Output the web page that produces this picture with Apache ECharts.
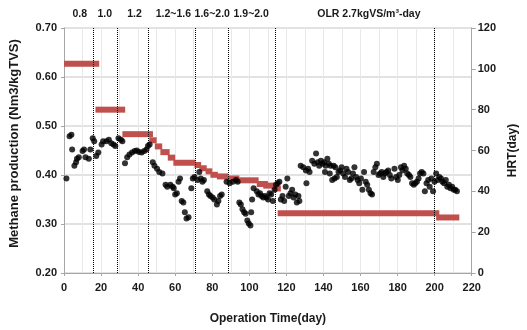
<!DOCTYPE html>
<html>
<head>
<meta charset="utf-8">
<script src="https://cdn.jsdelivr.net/npm/echarts@6/dist/echarts.min.js"></script>
<style>
  html, body { margin: 0; padding: 0; background: #fff; }
  #chart { width: 527px; height: 330px; }
</style>
</head>
<body>
<div id="chart"></div>
<script>
// methane production (Nm3/kgTVS) by operation day
const days = [
  1.3, 3, 4, 4.4, 5.6, 6.5, 7, 8, 10, 10.8, 11.6, 13.4, 14.2, 15.5, 16.3, 17.4, 18.5, 20.3, 21.1, 22.9,
  24.2, 25.5, 26.7, 27.7, 29.4, 30.7, 31.5, 32.9, 34.1, 35.3, 36.7, 38.1, 39.3, 40.5, 41.9, 43.3, 44.5, 45.3, 46.2, 47.9,
  48.8, 50.2, 51.4, 53.1, 54.8, 55.7, 57.4, 58.6, 59.2, 60, 60.9, 61.8, 62.6, 63.5, 64.4, 65.2, 66.1, 67.2, 68.7, 69.5,
  70.4, 72.1, 73, 73.8, 74.7, 75.5, 77.3, 78.2, 79, 80.2, 81.1, 82.5, 83.3, 84.2, 85.1, 87.7, 89.4, 91.1, 92.8, 93.7,
  94.6, 95.4, 96.3, 97.2, 98, 98.9, 99.7, 100.6, 101, 101.5, 102.3, 104, 104.9, 105.8, 106.6, 107.5, 108.4, 109.2, 110.1, 110.9,
  111.8, 112.7, 113.6, 114.4, 115.3, 116.2, 117, 117.9, 118.8, 119.6, 120.5, 121.3, 122.2, 123.1, 123.9, 124.8, 125.6, 126.5, 127, 127.7,
  129.1, 130.5, 130.8, 131.7, 132.5, 133.9, 135.1, 136, 136.9, 137.7, 138.6, 139.5, 140.3, 140.8, 141.2, 142.1, 142.9, 143.4, 143.8, 144.7,
  145.5, 146, 146.4, 147.2, 148.1, 149, 149.8, 150.7, 151.6, 152.4, 153.3, 154.2, 155, 155.9, 156.7, 157.6, 158.4, 159.3, 160.2, 161,
  161.9, 162.8, 163.6, 164.5, 165.4, 166.2, 167.1, 168, 168.8, 169.7, 170.5, 171.4, 172.3, 173.1, 174, 174.9, 175.8, 176.6, 178.3, 179.2,
  180.1, 180.9, 181.8, 182.6, 183.5, 184.4, 185.2, 186.1, 186.9, 187.8, 188.7, 189.5, 190.4, 191.3, 192.1, 193, 193.9, 194.7, 195.6, 196.5,
  197.3, 198.2, 199.1, 199.9, 200.8, 201.7, 202.5, 203.4, 204.2, 205.1, 206, 206.8, 207.7, 208.5, 209.4, 210.3, 211.1, 212
];
const methane = [
  0.393, 0.479, 0.482, 0.452, 0.419, 0.426, 0.433, 0.436, 0.449, 0.452, 0.436, 0.433, 0.452, 0.475, 0.469, 0.439, 0.446, 0.462, 0.469, 0.469,
  0.472, 0.465, 0.462, 0.459, 0.475, 0.472, 0.469, 0.424, 0.436, 0.442, 0.446, 0.449, 0.450, 0.447, 0.446, 0.449, 0.452, 0.459, 0.462, 0.426,
  0.419, 0.413, 0.406, 0.403, 0.380, 0.376, 0.380, 0.376, 0.373, 0.360, 0.363, 0.386, 0.393, 0.347, 0.344, 0.324, 0.311, 0.314, 0.373, 0.393,
  0.396, 0.390, 0.406, 0.393, 0.386, 0.390, 0.367, 0.360, 0.357, 0.354, 0.350, 0.340, 0.347, 0.357, 0.360, 0.386, 0.383, 0.386, 0.390, 0.386,
  0.344, 0.340, 0.330, 0.324, 0.321, 0.307, 0.301, 0.297, 0.324, 0.350, 0.373, 0.367, 0.360, 0.363, 0.357, 0.354, 0.357, 0.354, 0.350, 0.363,
  0.360, 0.347, 0.370, 0.380, 0.383, 0.386, 0.350, 0.357, 0.347, 0.376, 0.393, 0.357, 0.363, 0.370, 0.354, 0.360, 0.344, 0.357, 0.347, 0.419,
  0.416, 0.409, 0.383, 0.413, 0.406, 0.429, 0.423, 0.444, 0.426, 0.419, 0.429, 0.423, 0.426, 0.406, 0.419, 0.433, 0.423, 0.403, 0.419, 0.390,
  0.419, 0.393, 0.416, 0.396, 0.406, 0.409, 0.416, 0.403, 0.396, 0.413, 0.406, 0.390, 0.393, 0.403, 0.416, 0.396, 0.390, 0.383, 0.393, 0.370,
  0.406, 0.386, 0.380, 0.370, 0.363, 0.360, 0.406, 0.416, 0.423, 0.400, 0.403, 0.406, 0.396, 0.403, 0.406, 0.409, 0.400, 0.393, 0.413, 0.396,
  0.390, 0.400, 0.416, 0.409, 0.419, 0.413, 0.403, 0.400, 0.396, 0.383, 0.380, 0.383, 0.386, 0.393, 0.403, 0.406, 0.403, 0.367, 0.383, 0.390,
  0.376, 0.393, 0.367, 0.386, 0.403, 0.390, 0.396, 0.393, 0.386, 0.383, 0.390, 0.376, 0.380, 0.373, 0.376, 0.370, 0.370, 0.367
];

// HRT (day) steps: start day, end day, value
const hrtStart = [0, 17, 31.5, 46, 49, 52, 56, 59, 70.4, 73, 76.4, 79, 82.5, 87.7, 92.8, 104, 107.5, 112.7, 115.3, 200.8];
const hrtEnd   = [19, 33, 48, 50, 53, 57, 60, 71, 74, 77, 80, 83, 88.5, 94.6, 105, 110, 113.6, 117, 202.5, 213.3];
const hrtValue = [102.5, 80, 68, 65, 62, 59.2, 56.5, 54, 52.9, 51.3, 49.8, 48.1, 47.3, 46.3, 45.4, 43.6, 42.8, 41.4, 29.3, 27.2];

// loading phases (dotted lines) and their labels
const phaseDays = [16, 29, 45.5, 71, 88.5, 114, 200];
const loadLabels = ['0.8', '1.0', '1.2', '1.2~1.6', '1.6~2.0', '1.9~2.0', 'OLR 2.7kgVS/m³-day'];
const loadLabelDays = [8.5, 22, 38, 59, 80, 101, 164.5];

const font = '"Liberation Sans", Arial, sans-serif';
const chart = echarts.init(document.getElementById('chart'));

chart.setOption({
  backgroundColor: '#fff',
  animation: false,
  grid: { left: 57.5, right: 44.5, top: 28, bottom: 49 },
  xAxis: {
    type: 'value', min: 0, max: 220, interval: 20,
    name: 'Operation Time(day)', nameLocation: 'middle', nameGap: 40,
    nameTextStyle: { fontFamily: font, fontWeight: 'bold', fontSize: 12, color: '#1a1a1a' },
    axisLine: { lineStyle: { color: '#a6a6a6' } },
    axisTick: { show: true, length: 3, lineStyle: { color: '#a6a6a6' } },
    axisLabel: { fontFamily: font, fontWeight: 'bold', fontSize: 11, color: '#1a1a1a', margin: 9 },
    splitLine: { show: true, lineStyle: { color: '#e8e8e8' } },
    minorTick: { show: false, splitNumber: 2 },
    minorSplitLine: { show: true, lineStyle: { color: '#e8e8e8' } }
  },
  yAxis: [
    {
      type: 'value', min: 0.2, max: 0.7, interval: 0.1,
      name: 'Methane production (Nm3/kgTVS)', nameLocation: 'middle', nameGap: 43, nameRotate: 90,
      nameTextStyle: { fontFamily: font, fontWeight: 'bold', fontSize: 13, color: '#1a1a1a', padding: [0, 0, 0, 14] },
      axisLine: { show: true, lineStyle: { color: '#a6a6a6' } },
      axisTick: { show: true, length: 3, lineStyle: { color: '#a6a6a6' } },
      axisLabel: { fontFamily: font, fontWeight: 'bold', fontSize: 11, color: '#1a1a1a', margin: 7,
        formatter: v => v.toFixed(2) },
      splitLine: { show: true, lineStyle: { color: '#d9d9d9', width: 1.5 } }
    },
    {
      type: 'value', min: 0, max: 120, interval: 20, position: 'right',
      name: 'HRT(day)', nameLocation: 'middle', nameGap: 33, nameRotate: 90,
      nameTextStyle: { fontFamily: font, fontWeight: 'bold', fontSize: 12, color: '#1a1a1a' },
      axisLine: { show: true, lineStyle: { color: '#a6a6a6' } },
      axisTick: { show: true, length: 4, lineStyle: { color: '#a6a6a6' } },
      axisLabel: { fontFamily: font, fontWeight: 'bold', fontSize: 11, color: '#1a1a1a', margin: 6 },
      splitLine: { show: false }
    }
  ],
  series: [
    {
      type: 'custom',
      name: 'HRT',
      yAxisIndex: 1,
      data: hrtStart.map((s, i) => [s, hrtEnd[i], hrtValue[i]]),
      encode: { x: [0, 1], y: 2 },
      renderItem: (params, api) => {
        const p0 = api.coord([api.value(0), api.value(2)]);
        const p1 = api.coord([api.value(1), api.value(2)]);
        return {
          type: 'rect',
          shape: { x: p0[0], y: p0[1] - 3, width: p1[0] - p0[0], height: 6 },
          style: { fill: '#c0504d' }
        };
      },
      z: 2
    },
    {
      type: 'scatter',
      name: 'Methane',
      data: days.map((d, i) => [d, methane[i]]),
      symbolSize: 6,
      itemStyle: { color: '#000' },
      z: 3,
      markLine: {
        silent: true,
        symbol: 'none',
        label: { show: false },
        lineStyle: { color: '#000', type: 'dotted', width: 1 },
        data: phaseDays.map(d => ({ xAxis: d }))
      }
    },
    {
      type: 'custom',
      name: 'labels',
      clip: false,
      silent: true,
      data: loadLabelDays.map((d, i) => [d, i]),
      encode: { x: 0 },
      renderItem: (params, api) => {
        const p = api.coord([api.value(0), 0.7]);
        return {
          type: 'text',
          x: p[0], y: p[1] - 14,
          style: {
            text: loadLabels[api.value(1)],
            fontFamily: font, fontWeight: 'bold', fontSize: 10.5,
            fill: '#1a1a1a', align: 'center', verticalAlign: 'middle'
          }
        };
      }
    }
  ]
});
</script>
</body>
</html>
